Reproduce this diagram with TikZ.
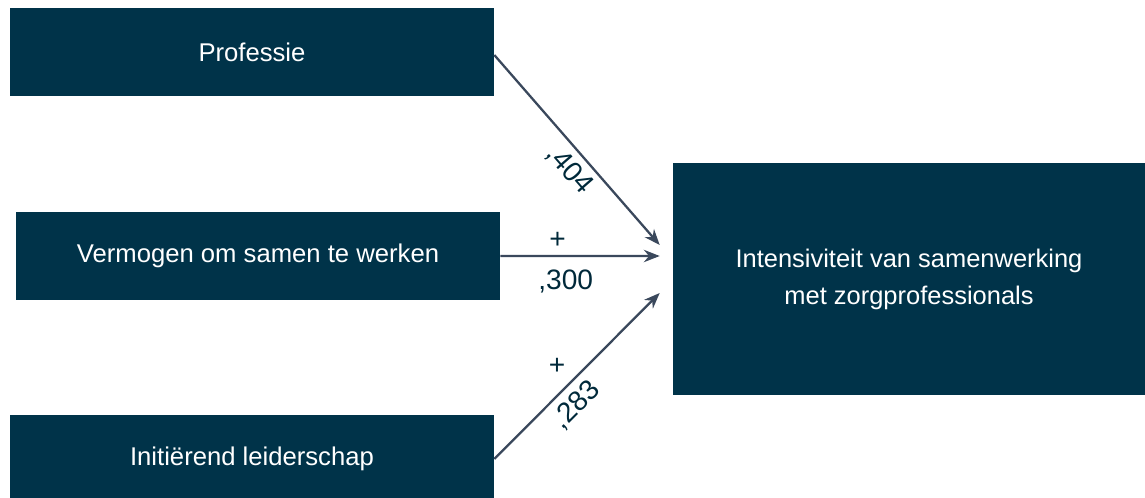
\documentclass[tikz,border=0pt]{standalone}
\usepackage{fontspec}
\setmainfont{Liberation Sans}
\usetikzlibrary{arrows.meta, positioning}
\definecolor{boxblue}{RGB}{0,51,73}
\definecolor{arrowgray}{RGB}{58,72,92}

\begin{document}
\begin{tikzpicture}[
    x=0.02cm, y=-0.02cm,
    factor/.style={
      rectangle, fill=boxblue,
      minimum width=9.68cm, minimum height=1.76cm,
      inner sep=0pt, text centered, text=white,
      font=\fontsize{14.6}{17}\selectfont
    },
    outcome/.style={
      rectangle, fill=boxblue,
      minimum width=9.44cm, minimum height=4.64cm,
      inner sep=0pt, align=center, text=white,
      font=\fontsize{14.5}{21}\selectfont
    },
    effarr/.style={
      -{Stealth[length=9pt, width=7pt]}, line width=1.3pt, draw=arrowgray
    },
    coef/.style={
      font=\fontsize{16}{19}\selectfont, text=boxblue!80!black
    }
  ]

  \useasboundingbox (0,0) rectangle (1145,497);

  % ---- Predictor boxes ----
  \node[factor] (prof) at (252,52)  {Professie};
  \node[factor] (verm) at (258,256) {Vermogen om samen te werken};
  \node[factor] (init) at (252,459) {Initiërend leiderschap};

  % ---- Outcome box ----
  \node[outcome] (doel) at (909,279)
    {Intensiviteit van samenwerking\\met zorgprofessionals};

  % ---- Effect arrows ----
  \draw[effarr] ([yshift=-0.06cm]prof.east)
    -- node[coef, sloped, below, pos=0.54] (c1) {,404}
    ([xshift=-0.26cm, yshift=0.68cm]doel.west);

  \draw[effarr] (verm.east)
    -- node[coef, pos=0.36, yshift=0.32cm] (s2) {+}
       node[coef, pos=0.41, yshift=-0.5cm] (c2) {,300}
    ([xshift=-0.26cm, yshift=0.46cm]doel.west);

  \draw[effarr] ([yshift=0cm]init.east)
    -- node[coef, pos=0.38, yshift=0.6cm] (s3) {+}
       node[coef, sloped, below=1pt, pos=0.41] (c3) {,283}
    ([xshift=-0.26cm, yshift=-0.28cm]doel.west);

\end{tikzpicture}
\end{document}
